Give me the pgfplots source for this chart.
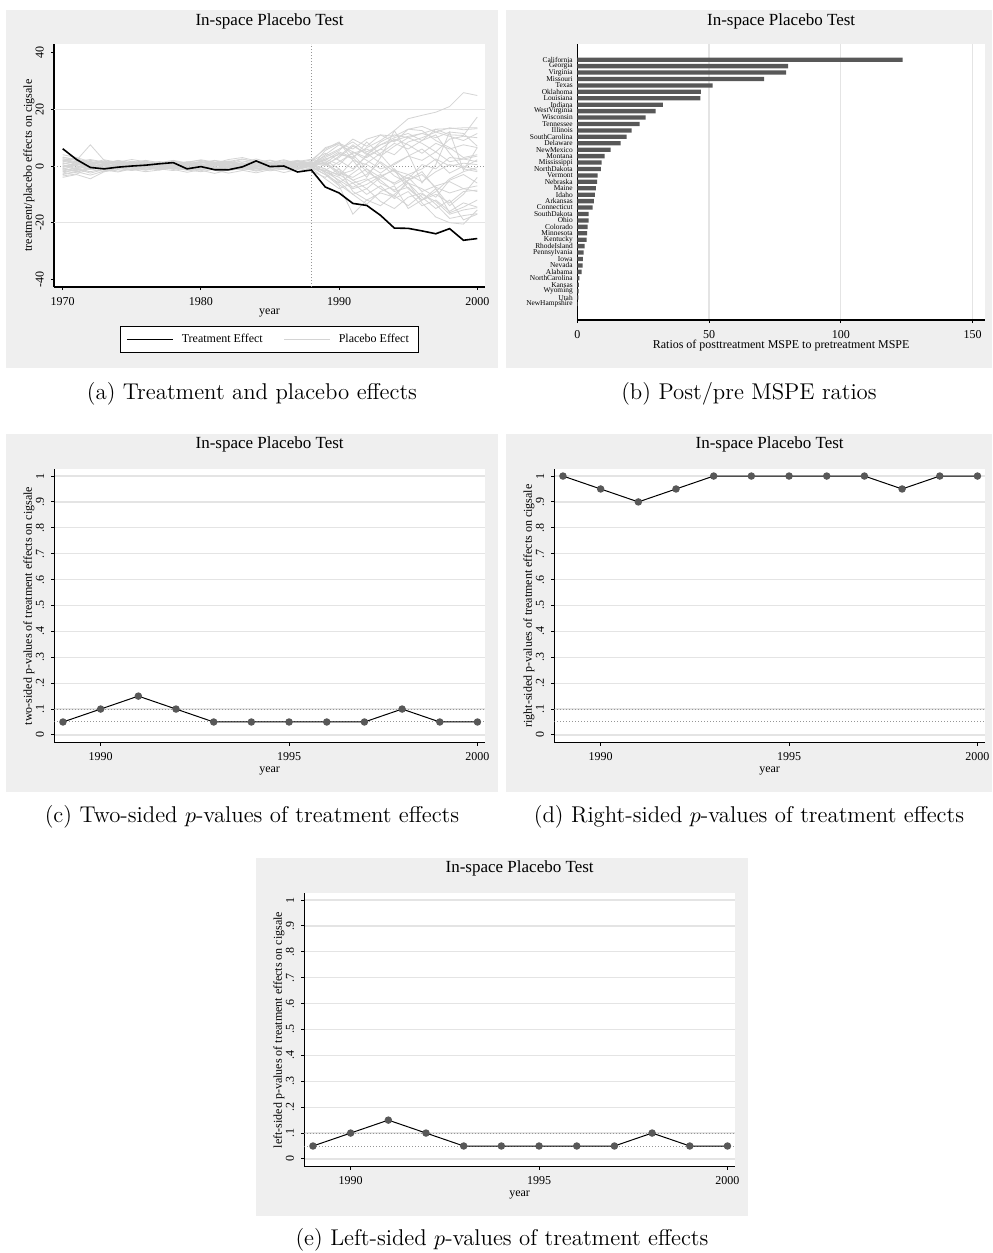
\documentclass[border=0pt]{standalone}
\usepackage{fontspec}
\usepackage{pgfplots}
\usepackage{pgfplotstable}
\pgfplotsset{compat=1.18}
\newfontfamily\st{Liberation Serif}
\definecolor{panelbg}{RGB}{239,239,239}
\definecolor{gridc}{RGB}{228,228,228}
\definecolor{plac}{RGB}{212,212,212}
\definecolor{mk}{RGB}{88,88,88}
\definecolor{dotc}{RGB}{150,150,150}
\newcommand\tk{\st\fontsize{6}{7}\selectfont}
\newcommand\capfont{\fontsize{11.4}{13}\selectfont}

\pgfplotstableread{
series 1970 1971 1972 1973 1974 1975 1976 1977 1978 1979 1980 1981 1982 1983 1984 1985 1986 1987 1988 1989 1990 1991 1992 1993 1994 1995 1996 1997 1998 1999 2000
t 6.1 2.3 -0.5 -1.0 -0.4 0.0 0.3 0.8 1.2 -1.0 -0.2 -1.3 -1.3 -0.3 1.8 -0.2 0.0 -2.1 -1.4 -7.4 -9.5 -13.2 -13.9 -17.4 -21.9 -22.0 -22.9 -23.9 -22.1 -26.2 -25.6
p1 2.0 1.2 -0.5 0.8 1.5 0.3 -0.8 0.5 1.2 0.4 -0.6 0.9 1.8 0.7 -0.4 1.1 0.2 -0.5 0.6 2.5 4.0 3.2 6.5 9.0 12.5 16.7 17.9 19.0 21.0 25.9 24.9
p2 -1.5 -0.8 1.2 0.4 -1.0 -0.3 0.9 1.6 0.5 -0.7 -1.2 0.2 1.0 2.4 1.5 0.6 1.3 2.0 1.0 3.5 6.0 8.5 5.0 7.5 10.0 11.5 9.0 13.0 11.0 10.8 17.3
p3 3.0 2.5 1.0 -0.5 0.6 1.3 0.4 -0.3 -1.0 0.8 1.6 0.7 -0.4 0.5 1.4 2.1 1.0 0.2 -0.3 5.5 8.0 6.0 9.5 11.0 8.5 13.0 14.0 12.0 13.5 12.8 13.2
p4 0.5 -1.0 -2.5 -1.2 0.3 1.0 -0.4 -1.3 0.2 1.1 0.6 -0.5 -1.6 -0.8 0.7 1.9 0.9 -0.6 0.4 1.0 -3.0 -1.5 4.0 7.5 9.0 10.5 11.5 10.0 12.0 11.5 7.0
p5 -2.0 -1.5 0.8 1.7 0.9 -0.2 -1.1 -0.3 0.8 1.5 0.4 -0.8 -0.2 1.3 2.5 1.2 -0.4 1.1 2.2 6.0 8.5 2.0 -4.0 3.0 12.5 4.5 -6.0 0.5 12.0 -1.5 6.5
p6 1.0 0.2 -1.0 -2.0 -1.2 0.0 0.8 0.3 -0.6 -1.5 -0.8 0.5 1.2 0.4 -0.9 -0.2 0.7 1.5 0.8 -1.0 -3.5 2.0 0.5 -2.5 1.0 3.5 2.0 5.0 1.5 2.5 3.5
p7 4.0 3.0 1.5 0.2 -0.9 -1.6 -0.5 0.4 1.0 0.3 -0.5 -1.4 -0.7 0.6 1.7 0.8 -0.3 -1.2 0.3 2.0 -1.0 -5.0 -3.0 1.5 -2.0 -4.5 0.5 -1.0 3.0 2.5 1.5
p8 -3.5 -2.8 -1.0 0.5 1.4 0.8 -0.2 -1.0 -1.6 -0.6 0.4 1.3 0.5 -0.7 -1.8 -0.9 0.3 1.0 0.1 4.0 7.5 5.0 2.0 -1.0 0.5 3.5 6.0 2.0 -2.5 0.0 -1.5
p9 2.5 2.0 7.5 2.0 0.8 -0.4 -1.3 -0.6 0.5 1.4 2.0 1.0 -0.3 -1.1 0.2 1.3 2.2 1.0 -0.2 -3.0 -6.0 -2.5 1.0 4.5 8.0 6.0 9.0 11.0 4.5 -1.0 -2.0
p10 -0.5 0.6 1.6 0.9 -0.3 -1.2 -2.0 -1.4 -0.4 0.5 1.2 2.0 1.3 0.2 -0.8 -1.7 -1.0 0.4 1.2 0.5 3.0 7.0 4.5 1.0 -3.5 -6.0 -8.0 -11.0 -5.0 -3.0 -6.0
p11 1.5 2.8 0.5 -1.5 -0.6 0.4 1.3 0.6 -0.5 -1.3 -0.4 0.7 1.5 0.9 -0.2 -1.0 -2.3 -1.2 -0.1 -2.0 -4.0 -7.5 -5.0 -3.0 -6.5 -4.0 -9.0 -7.0 -5.5 -8.0 -7.0
p12 -4.0 -3.0 -4.5 -2.0 -0.7 0.5 1.1 0.3 -0.6 -1.4 -2.0 -1.1 0.2 1.1 0.4 -0.5 -1.3 -0.4 0.9 2.0 5.0 3.0 -2.0 -5.0 -9.0 -7.5 -12.0 -10.0 -13.0 -9.0 -8.5
p13 0.0 -1.2 -2.0 -0.8 0.6 1.5 0.7 -0.3 -1.2 -2.2 -1.3 -0.2 0.9 1.8 1.0 -0.1 -1.0 -2.0 -0.8 -4.5 -8.0 -6.0 -10.0 -7.0 -11.5 -9.0 -14.0 -12.0 -16.0 -13.0 -14.5
p14 2.2 1.0 -0.2 1.0 2.0 1.1 0.1 -0.8 0.2 1.3 2.2 1.4 0.4 -0.6 -1.5 -0.6 0.5 1.6 2.4 1.0 -2.0 -5.0 -8.0 -4.0 -1.0 -6.0 -11.0 -15.0 -12.0 -19.0 -17.0
p15 -1.0 -2.0 -0.6 0.7 -0.5 -1.5 -0.7 0.4 1.3 0.6 -0.5 -1.5 -2.5 -1.6 -0.4 0.6 1.4 0.5 -0.5 -3.0 -7.0 -17.0 -12.0 -14.0 -10.0 -6.0 -13.0 -18.0 -20.0 -20.5 -15.5
p16 3.2 2.0 0.7 -0.4 0.3 1.2 2.0 1.2 0.1 -0.8 0.0 1.0 2.3 3.0 1.8 0.7 -0.3 0.6 1.5 6.5 8.0 4.0 -1.0 -4.0 -6.0 -3.0 -1.0 2.5 0.0 1.0 0.5
p17 -2.5 -1.0 0.3 -0.8 -1.8 -1.0 0.2 1.0 0.4 -0.5 -1.4 -0.6 0.5 -0.4 -1.5 -0.5 0.8 -0.3 -1.0 -1.5 1.5 4.5 6.0 3.5 7.0 10.0 8.0 5.0 9.5 10.5 10.0
p18 0.8 1.6 2.3 1.4 0.3 -0.6 0.3 1.2 2.0 1.1 0.2 -0.7 -1.6 -0.8 0.3 1.2 0.3 -0.8 -1.8 -4.0 -1.0 -9.0 -12.0 -9.5 -11.0 -5.0 -2.0 -8.0 -14.0 -10.0 -4.0
p19 -1.8 -0.5 1.0 2.2 1.3 0.4 -0.5 -1.4 -0.6 0.4 1.3 0.5 -0.6 -1.5 -2.4 -1.3 -0.3 0.9 0.2 -1.0 -5.5 -10.0 -13.5 -9.0 -7.0 -15.0 -12.0 -8.0 -16.5 -14.5 -12.0
p20 1.2 0.0 -1.2 -0.3 0.8 1.7 1.0 0.0 -0.9 -0.2 0.9 1.8 0.9 -0.1 -1.1 -0.3 0.6 1.6 0.7 3.0 5.5 9.5 7.0 11.0 10.5 13.0 12.5 9.0 6.5 3.0 4.0
p21 -0.8 -1.6 -0.4 0.9 1.8 1.0 0.0 -1.0 -0.3 0.7 1.6 0.8 -0.2 -1.2 -0.5 0.5 1.5 0.6 -0.4 1.5 -2.5 -4.0 -1.0 -6.0 -8.5 -5.0 -3.0 -7.5 -9.5 -8.0 -9.0
p22 1.8 0.6 -0.6 0.4 1.4 2.3 1.5 0.4 -0.5 0.4 1.3 0.4 -0.6 0.2 1.1 0.2 -0.8 0.1 1.1 0.0 3.5 7.5 4.0 8.5 11.0 10.0 11.5 13.0 13.2 13.5 13.5
p23 -2.8 -2.0 -3.2 -1.8 -0.5 0.4 -0.4 -1.2 -0.2 0.6 -0.3 -1.2 -0.4 0.5 1.2 0.3 -0.6 0.3 1.0 -2.5 -6.5 -10.0 -8.0 -12.5 -15.0 -11.0 -9.5 -13.5 -18.5 -17.5 -16.8
p24 0.3 -0.4 0.6 1.4 0.5 -0.5 -1.5 -0.6 0.3 -0.5 -1.5 -2.6 -1.4 -0.3 0.9 0.0 -0.8 0.5 -0.2 2.5 0.5 5.0 3.0 6.0 9.5 7.5 4.5 8.0 6.0 7.5 6.5
p25 -1.2 0.5 2.0 1.2 0.2 -0.8 -0.1 0.9 1.8 0.9 -0.2 -1.1 -0.3 0.8 1.9 1.0 0.1 -0.9 0.5 -2.0 -5.0 -8.0 -6.5 -3.5 -1.5 -3.0 -5.5 -2.0 0.5 -0.5 2.2
p26 2.6 1.4 0.2 -1.0 -0.2 0.8 1.7 0.8 -0.3 -1.2 -0.4 0.6 1.6 2.5 1.3 0.3 0.9 1.8 0.4 1.0 4.5 2.5 8.5 4.0 -1.5 -8.0 -12.0 -9.0 -4.5 -2.0 -0.5
p27 -0.3 0.9 -0.3 -1.4 -2.1 -1.0 0.1 0.9 0.3 -0.7 0.1 1.1 0.3 -0.8 -0.1 0.9 1.9 0.8 -0.5 -1.5 -3.0 -6.0 -4.5 -8.0 -10.5 -14.0 -10.0 -12.5 -17.0 -15.5 -14.7
p28 -3.0 -2.2 -0.8 0.6 -0.3 -1.3 -0.5 0.6 1.4 0.5 -0.4 0.5 1.4 0.6 -0.6 -1.4 -0.4 0.8 1.6 4.5 2.0 -1.0 3.5 6.0 4.0 8.5 10.0 12.0 10.5 9.0 11.5
}\rawtab
\pgfplotstabletranspose[colnames from=series,input colnames to=year]{\efftab}{\rawtab}

\pgfplotstableread{
pos name val
1 California 123.4
2 Georgia 80.0
3 Virginia 79.2
4 Missouri 70.9
5 Texas 51.3
6 Oklahoma 46.9
7 Louisiana 46.7
8 Indiana 32.5
9 WestVirginia 29.7
10 Wisconsin 25.9
11 Tennessee 23.6
12 Illinois 20.6
13 SouthCarolina 18.7
14 Delaware 16.4
15 NewMexico 12.6
16 Montana 10.4
17 Mississippi 9.2
18 NorthDakota 8.9
19 Vermont 7.7
20 Nebraska 7.5
21 Maine 7.0
22 Idaho 6.7
23 Arkansas 6.3
24 Connecticut 5.8
25 SouthDakota 4.3
26 Ohio 4.3
27 Colorado 3.9
28 Minnesota 3.7
29 Kentucky 3.5
30 RhodeIsland 2.8
31 Pennsylvania 2.4
32 Iowa 2.1
33 Nevada 2.0
34 Alabama 1.6
35 NorthCarolina 0.8
36 Kansas 0.6
37 Wyoming 0.5
38 Utah 0.4
39 NewHampshire 0.25
}\bartab

\pgfplotstableread{
year two right left
1989 0.05 1.00 0.05
1990 0.10 0.95 0.10
1991 0.15 0.90 0.15
1992 0.10 0.95 0.10
1993 0.05 1.00 0.05
1994 0.05 1.00 0.05
1995 0.05 1.00 0.05
1996 0.05 1.00 0.05
1997 0.05 1.00 0.05
1998 0.10 0.95 0.10
1999 0.05 1.00 0.05
2000 0.05 1.00 0.05
}\pvtab

\pgfplotsset{
  stata/.style={
    scale only axis,
    anchor=north west,
    axis background/.style={fill=white},
    axis lines*=left,
    axis line style={-, black, line width=0.7pt},
    tick align=outside,
    major tick length=1.6pt,
    every tick/.style={black, line width=0.5pt},
    tick label style={font=\tk},
    label style={font=\tk},
    title style={font=\st\fontsize{8.5}{10}\selectfont, anchor=center},
    grid style={gridc, line width=0.6pt},
    /pgf/number format/1000 sep={},
    /pgf/number format/assume math mode=true,
  },
  rot/.style={yticklabel style={rotate=90, anchor=south}},
  pv/.style={stata, rot, width=215.35pt, height=136.7pt,
    xmin=1988.77, xmax=2000.2, ymin=-0.03, ymax=1.026,
    xtick={1990,1995,2000},
    ytick={0,0.1,0.2,0.3,0.4,0.5,0.6,0.7,0.8,0.9,1},
    yticklabels={0,.1,.2,.3,.4,.5,.6,.7,.8,.9,1},
    ymajorgrids,
    xlabel={year},
    xlabel style={at={(axis description cs:0.5,-0.1024)}, anchor=center},
    ylabel style={at={(axis description cs:-0.0587,0.5)}, anchor=center},
    title={In-space Placebo Test},
    title style={at={(axis description cs:0.5,1.0461)}},
  },
}
\newcommand\hdot[1]{\draw[dotc, line width=0.5pt, dash pattern=on 0.5pt off 1pt] ({rel axis cs:0,0}|-{axis cs:1995,#1}) -- ({rel axis cs:1,0}|-{axis cs:1995,#1});}

\begin{document}
\begin{tikzpicture}
\useasboundingbox (0,0) rectangle (496pt,-626.5pt);
\fill[panelbg] (3pt,-5pt) rectangle (248.85pt,-183.85pt);
\fill[panelbg] (253pt,-5pt) rectangle (496pt,-183.85pt);
\fill[panelbg] (3pt,-217pt) rectangle (248.85pt,-395.85pt);
\fill[panelbg] (253pt,-217pt) rectangle (496pt,-395.85pt);
\fill[panelbg] (128pt,-429pt) rectangle (373.85pt,-607.85pt);

% (a)
\begin{axis}[stata, rot, at={(27pt,-22pt)}, width=215.5pt, height=121.5pt,
  xmin=1969.37, xmax=2000.56, ymin=-42.7, ymax=43.07,
  xtick={1970,1980,1990,2000},
  ytick={-40,-20,0,20,40}, yticklabels={-40,-20,0,20,40},
  extra y ticks={-20,20}, extra y tick labels={}, extra y tick style={grid=major, major tick length=0pt},
  xlabel={year}, ylabel={treatment/placebo effects on cigsale},
  xlabel style={at={(axis description cs:0.5,-0.107)}, anchor=center},
  ylabel style={at={(axis description cs:-0.058,0.5)}, anchor=center},
  title={In-space Placebo Test}, title style={at={(axis description cs:0.5,1.0453)}},
  legend columns=2,
  legend style={at={(axis description cs:0.5,-0.216)}, anchor=center, draw=black, line width=0.6pt, fill=white, font=\tk, inner xsep=2.8pt, inner ysep=1.7pt,
    /tikz/every even column/.append style={column sep=8.5pt},
    /tikz/every odd column/.append style={column sep=2pt}},
  legend image code/.code={\draw[#1] (0pt,0pt) -- (23pt,0pt);},
]
\draw[dotc, line width=0.5pt, dash pattern=on 0.5pt off 1pt] ({rel axis cs:0,0}|-{axis cs:1980,0}) -- ({rel axis cs:1,0}|-{axis cs:1980,0});
\draw[dotc, line width=0.5pt, dash pattern=on 0.5pt off 1pt] ({axis cs:1988,0}|-{rel axis cs:0,0}) -- ({axis cs:1988,0}|-{rel axis cs:0,1});
\pgfplotsinvokeforeach{1,...,28}{\addplot[plac, line width=0.4pt, forget plot] table[x=year, y=p#1]{\efftab};}
\addplot[black, line width=0.8pt, forget plot] table[x=year, y=t]{\efftab};
\addlegendimage{black, line width=0.8pt}\addlegendentry{Treatment Effect}
\addlegendimage{plac, line width=0.5pt}\addlegendentry{Placebo Effect}
\end{axis}

% (b)
\begin{axis}[stata, at={(288.65pt,-22pt)}, width=203.85pt, height=138pt,
  xbar, bar width=2.15pt,
  xmin=0, xmax=154.7, ymin=-1.44, ymax=41.49, y dir=reverse,
  xtick={0,50,100,150}, xmajorgrids,
  ytick=data, yticklabels from table={\bartab}{name},
  yticklabel style={font=\st\fontsize{3.7}{4}\selectfont, inner sep=0.5pt},
  ytick style={draw=none},
  xlabel={Ratios of posttreatment MSPE to pretreatment MSPE},
  xlabel style={at={(axis description cs:0.5,-0.0931)}, anchor=center},
  title={In-space Placebo Test}, title style={at={(axis description cs:0.5,1.0399)}},
]
\addplot[fill=mk, draw=none] table[x=val, y=pos]{\bartab};
\end{axis}

% (c)
\begin{axis}[pv, at={(27.15pt,-234.65pt)}, ylabel={two-sided p-values of treatment effects on cigsale}]
\hdot{0.1}\hdot{0.05}
\addplot[black, line width=0.5pt, mark=*, mark size=1.6pt, mark options={fill=mk, draw=mk}] table[x=year, y=two]{\pvtab};
\end{axis}

% (d)
\begin{axis}[pv, at={(277.15pt,-234.65pt)}, ylabel={right-sided p-values of treatment effects on cigsale}]
\hdot{0.1}\hdot{0.05}
\addplot[black, line width=0.5pt, mark=*, mark size=1.6pt, mark options={fill=mk, draw=mk}] table[x=year, y=right]{\pvtab};
\end{axis}

% (e)
\begin{axis}[pv, at={(152.15pt,-446.65pt)}, ylabel={left-sided p-values of treatment effects on cigsale}]
\hdot{0.1}\hdot{0.05}
\addplot[black, line width=0.5pt, mark=*, mark size=1.6pt, mark options={fill=mk, draw=mk}] table[x=year, y=left]{\pvtab};
\end{axis}

\node[font=\capfont] at (126pt,-197pt) {(a) Treatment and placebo effects};
\node[font=\capfont] at (374.5pt,-197pt) {(b) Post/pre MSPE ratios};
\node[font=\capfont] at (126pt,-408.35pt) {(c) Two-sided $p$-values of treatment effects};
\node[font=\capfont] at (374.5pt,-408.35pt) {(d) Right-sided $p$-values of treatment effects};
\node[font=\capfont] at (251pt,-620pt) {(e) Left-sided $p$-values of treatment effects};
\end{tikzpicture}
\end{document}
